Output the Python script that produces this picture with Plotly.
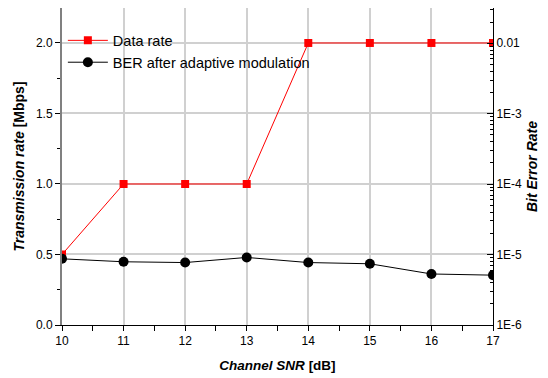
import plotly.graph_objects as go

snr = [10, 11, 12, 13, 14, 15, 16, 17]
data_rate = [0.5, 1.0, 1.0, 1.0, 2.0, 2.0, 2.0, 2.0]
ber = [8.7e-6, 7.9e-6, 7.7e-6, 9.1e-6, 7.7e-6, 7.4e-6, 5.3e-6, 5.1e-6]

left_ticks = [0.0, 0.5, 1.0, 1.5, 2.0]
left_labels = ["0.0", "0.5", "1.0", "1.5", "2.0"]
right_ticks = [1e-6, 1e-5, 1e-4, 1e-3, 1e-2]
right_labels = ["1E-6", "1E-5", "1E-4", "1E-3", "0.01"]
right_minor = [m * 10 ** e for e in range(-6, -1) for m in range(2, 10)] + [2e-2, 3e-2]

font = "Liberation Sans, Arial, sans-serif"

fig = go.Figure()
fig.add_trace(go.Scatter(
    x=snr, y=data_rate, name="Data rate", mode="lines+markers",
    line=dict(color="#ff0000", width=1),
    marker=dict(symbol="square", size=8, color="#ff0000"),
    yaxis="y"))
fig.add_trace(go.Scatter(
    x=snr, y=ber, name="BER after adaptive modulation", mode="lines+markers",
    line=dict(color="#000000", width=1),
    marker=dict(symbol="circle", size=10, color="#000000"),
    yaxis="y2"))

# page body has an 8px default margin, so the figure is sized 540x370
fig.update_layout(
    width=540, height=370,
    margin=dict(l=54, r=55, t=0, b=53, autoexpand=False),
    paper_bgcolor="white", plot_bgcolor="white",
    font=dict(family=font, size=12, color="#000000"),
    showlegend=True,
    legend=dict(x=0.002, y=0.863, xanchor="left", yanchor="middle",
                bgcolor="rgba(0,0,0,0)", font=dict(size=14.5),
                tracegroupgap=0, itemwidth=40),
    xaxis=dict(
        range=[10, 17], tickvals=snr, ticktext=[str(s) for s in snr],
        ticks="outside", ticklen=5, tickcolor="#000", showline=True,
        linecolor="#000", linewidth=1, mirror="allticks", automargin=False,
        showgrid=True, gridcolor="#d0d0d0", gridwidth=1.5, zeroline=False,
        minor=dict(dtick=0.5, tick0=10, ticks="outside", ticklen=3, tickcolor="#000", showgrid=False),
        title=dict(text="<b><i>Channel SNR</i> [dB]</b>" + "\u00a0" * 6,
                   font=dict(size=13.5), standoff=13),
    ),
    yaxis=dict(
        range=[0, 2.248], tickvals=left_ticks, ticktext=left_labels,
        ticks="outside", ticklen=5, tickcolor="#000", showline=True,
        linecolor="#808080", linewidth=2, automargin=False,
        showgrid=True, gridcolor="#d0d0d0", gridwidth=1.5, zeroline=False,
        minor=dict(dtick=0.25, tick0=0, ticks="outside", ticklen=3, tickcolor="#000", showgrid=False),
        title=dict(text="<b><i>Transmission rate</i> [Mbps]</b>", font=dict(size=14), standoff=8),
    ),
    yaxis2=dict(
        type="log", range=[-6, -1.50], overlaying="y", side="right",
        tickvals=right_ticks, ticktext=right_labels, automargin=False,
        ticks="inside", ticklen=6, tickcolor="#000", showline=True,
        linecolor="#000", linewidth=1, showgrid=False, zeroline=False,
        minor=dict(tickvals=right_minor, ticks="inside", ticklen=3, tickcolor="#000", showgrid=False),
        title=dict(text="<b><i>Bit Error Rate</i></b>", font=dict(size=14), standoff=6),
    ),
)

fig.write_html("out.html")
